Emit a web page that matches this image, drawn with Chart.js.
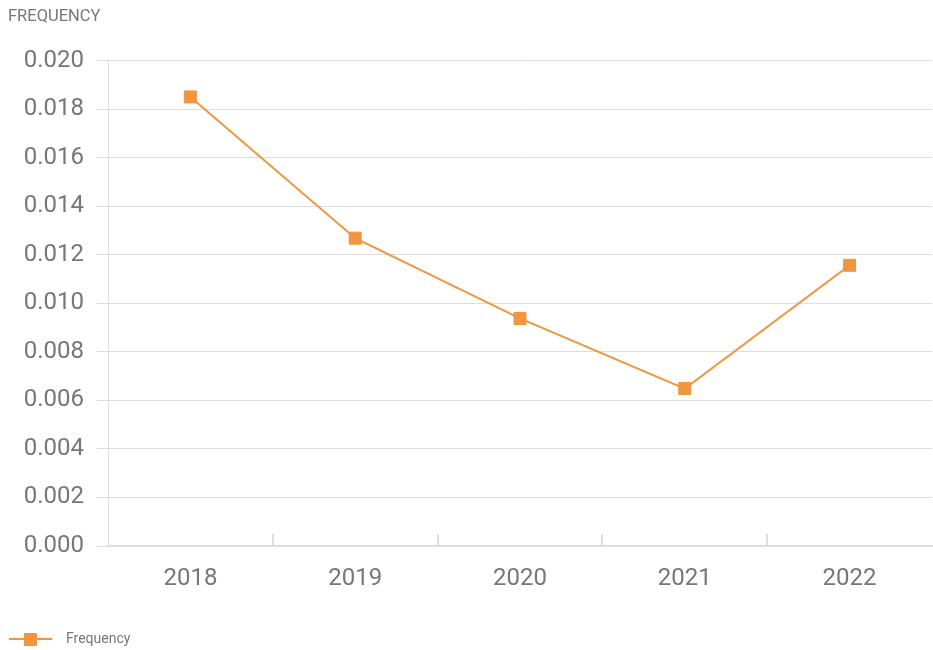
<!DOCTYPE html>
<html>
<head>
<meta charset="utf-8">
<script src="https://cdn.jsdelivr.net/npm/chart.js@4"></script>
<style>
	html, body { margin: 0; padding: 0; background: #fff; }
	#wrap { width: 933px; height: 650px; }
</style>
</head>
<body>
<div id="wrap"><canvas id="freqchart"></canvas></div>
<script>
const years = ["2018", "2019", "2020", "2021", "2022"];
const frequency = [0.01851, 0.01269, 0.00938, 0.00649, 0.01157];
const yTicks = [0, 0.002, 0.004, 0.006, 0.008, 0.01, 0.012, 0.014, 0.016, 0.018, 0.02];

const orange = "#F2953F";
const grey = "#777777";
const gridColor = "#dedede";

// legend symbol: short line with a square on it
function legendSymbol() {
	const c = document.createElement("canvas");
	c.width = 50;
	c.height = 14;
	const ctx = c.getContext("2d");
	ctx.strokeStyle = orange;
	ctx.lineWidth = 2;
	ctx.beginPath();
	ctx.moveTo(0, 7);
	ctx.lineTo(43, 7);
	ctx.stroke();
	ctx.fillStyle = orange;
	ctx.fillRect(15, 1, 13, 13);
	return c;
}

// draw the legend a few pixels lower than its box
const legendShift = {
	id: "legendShift",
	beforeInit: function (chart) {
		const lg = chart.legend;
		if (!lg) return;
		const draw = lg.draw;
		lg.draw = function () {
			const ctx = this.ctx;
			ctx.save();
			ctx.translate(0, 6);
			draw.call(this);
			ctx.restore();
		};
	}
};

const freqContext = document.getElementById("freqchart").getContext("2d");

let freqChart = new Chart(freqContext, {
	type: "line",
	data: {
		labels: years,
		datasets: [
			{
				label: "Frequency",
				data: frequency,
				borderColor: orange,
				backgroundColor: orange,
				borderWidth: 2,
				pointStyle: "rect",
				pointRadius: 8.5,
				pointHoverRadius: 8.5,
				pointBorderWidth: 1,
				tension: 0
			}
		]
	},
	plugins: [legendShift],
	options: {
		responsive: true,
		maintainAspectRatio: false,
		animation: false,
		layout: { autoPadding: false, padding: { left: 8, right: 1, top: 0, bottom: 0 } },
		plugins: {
			tooltip: { enabled: false },
			title: {
				display: true,
				text: "FREQUENCY",
				align: "start",
				color: grey,
				font: { family: "Roboto", size: 16.5, weight: "normal" },
				padding: { top: 7, bottom: 34 }
			},
			legend: {
				position: "bottom",
				align: "start",
				labels: {
					usePointStyle: true,
					pointStyleWidth: 50,
					padding: 1,
					color: grey,
					font: { family: "Roboto", size: 14 },
					generateLabels: function (chart) {
						return [{
							text: "Frequency",
							pointStyle: legendSymbol(),
							fillStyle: orange,
							strokeStyle: orange,
							lineWidth: 0,
							fontColor: grey,
							datasetIndex: 0,
							hidden: false
						}];
					}
				}
			}
		},
		scales: {
			x: {
				offset: true,
				grid: {
					display: true,
					offset: true,
					drawOnChartArea: false,
					tickLength: -12,
					color: function (ctx) {
						// no tick marks at the two ends of the axis
						if (ctx.index === undefined || ctx.index === 0 || ctx.index >= years.length) {
							return "rgba(0,0,0,0)";
						}
						return gridColor;
					},
					lineWidth: 2
				},
				border: { color: gridColor, width: 2 },
				ticks: {
					color: grey,
					padding: 31,
					font: { family: "Roboto", size: 24 }
				},
				afterFit: function (axis) {
					axis.height = 79;
				}
			},
			y: {
				min: 0,
				max: 0.02,
				afterBuildTicks: function (axis) {
					axis.ticks = yTicks.map(v => ({ value: v }));
				},
				grid: {
					color: gridColor,
					tickLength: 11,
					lineWidth: 1
				},
				border: { color: gridColor, width: 1 },
				ticks: {
					color: grey,
					padding: 13,
					font: { family: "Roboto", size: 24 },
					callback: function (value) {
						return value.toFixed(3);
					}
				},
				afterFit: function (axis) {
					axis.width = 100;
				}
			}
		}
	}
});
</script>
</body>
</html>
